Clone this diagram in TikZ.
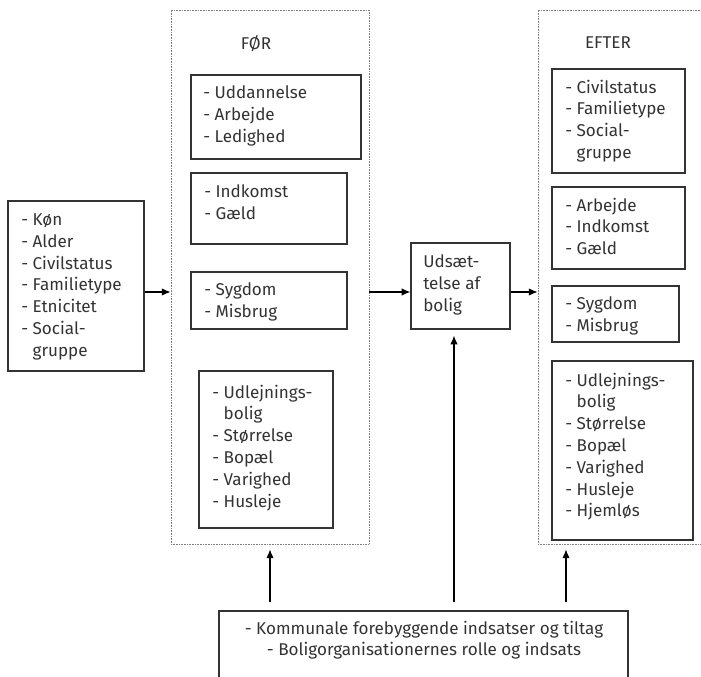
\documentclass[tikz,border=0pt]{standalone}
\usepackage{fontspec}
\setmainfont{Fira Sans}
\usetikzlibrary{arrows.meta,fit}
\definecolor{ink}{HTML}{333333}
\definecolor{dots}{HTML}{808080}
\begin{document}
\begin{tikzpicture}[x=0.75pt,y=-0.75pt,
  box/.style={draw=ink, line width=0.9pt, inner sep=0pt},
  cont/.style={draw=dots, line width=0.6pt, dash pattern=on 0.45pt off 0.75pt, inner sep=0pt},
  txt/.style={anchor=north west, inner sep=0pt, align=left, text=ink, font=\fontsize{12.8}{16.35}\selectfont},
  ttl/.style={inner sep=0pt, text=ink, font=\fontsize{12.8}{16.35}\selectfont},
  arr/.style={draw=black, line width=0.9pt, -{Latex[length=6.5pt,width=5.5pt]}}]
\useasboundingbox (0,0) rectangle (701,677);
\clip (0,0) rectangle (701,677);
\newcommand{\hi}{\hphantom{- }}
% left box
\node[box, fit={(8,201) (144,371)}] (L) {};
\node[txt] (Lt) at (21,213.5) {- Køn\\- Alder\\- Civilstatus\\- Familietype\\- Etnicitet\\- Social-\\\hi gruppe};
% FOR container
\node[cont, fit={(171,10) (369,544)}] (FOR) {};
\node[ttl] (FORt) at (256,44) {FØR};
\node[box, fit={(191,75) (361,159)}] (F1) {};
\node[txt] (F1t) at (203,85.5) {- Uddannelse\\- Arbejde\\- Ledighed};
\node[box, fit={(191,173) (347,244)}] (F2) {};
\node[txt] (F2t) at (204,184.5) {- Indkomst\\- Gæld};
\node[box, fit={(191,272) (347,329)}] (F3) {};
\node[txt] (F3t) at (204,282.5) {- Sygdom\\- Misbrug};
\node[box, fit={(199,371) (333,528)}] (F4) {};
\node[txt] (F4t) at (212,384.5) {- Udlejnings-\\\hi bolig\\- Størrelse\\- Bopæl\\- Varighed\\- Husleje};
% Udsaettelse
\node[box, fit={(411,243) (510,329)}] (U) {};
\node[txt] (Ut) at (423,254.5) {Udsæt-\\telse af\\bolig};
% EFTER container
\node[cont, fit={(538,10) (720,544)}] (EFT) {};
\node[ttl] (EFTt) at (608,43) {EFTER};
\node[box, fit={(552,69) (685,173)}] (E1) {};
\node[txt] (E1t) at (565,79.5) {- Civilstatus\\- Familietype\\- Social-\\\hi gruppe};
\node[box, fit={(552,187) (685,269)}] (E2) {};
\node[txt] (E2t) at (565,197.5) {- Arbejde\\- Indkomst\\- Gæld};
\node[box, fit={(552,286) (679,342)}] (E3) {};
\node[txt] (E3t) at (565,296.5) {- Sygdom\\- Misbrug};
\node[box, fit={(552,361) (693,540)}] (E4) {};
\node[txt] (E4t) at (565,372.5) {- Udlejnings-\\\hi bolig\\- Størrelse\\- Bopæl\\- Varighed\\- Husleje\\- Hjemløs};
% bottom box
\node[box, fit={(219,611) (628,700)}] (B) {};
\node[ttl, anchor=north, align=center] (Bt) at (424,620.5) {- Kommunale forebyggende indsatser og tiltag\\- Boligorganisationernes rolle og indsats};
% connectors
\coordinate (ya) at (0,292);
\draw[arr] (L.east |- ya) -- (FOR.west |- ya);
\draw[arr] (FOR.east |- ya) -- (U.west |- ya);
\draw[arr] (U.east |- ya) -- (EFT.west |- ya);
\coordinate (x1) at (270,0);
\coordinate (x2) at (454,0);
\coordinate (x3) at (566,0);
\draw[arr, shorten <=6pt, shorten >=3.75pt] (B.north -| x1) -- (FOR.south -| x1);
\draw[arr, shorten <=6pt, shorten >=4.5pt] (B.north -| x2) -- (U.south -| x2);
\draw[arr, shorten <=6pt, shorten >=3.75pt] (B.north -| x3) -- (EFT.south -| x3);
\end{tikzpicture}
\end{document}
